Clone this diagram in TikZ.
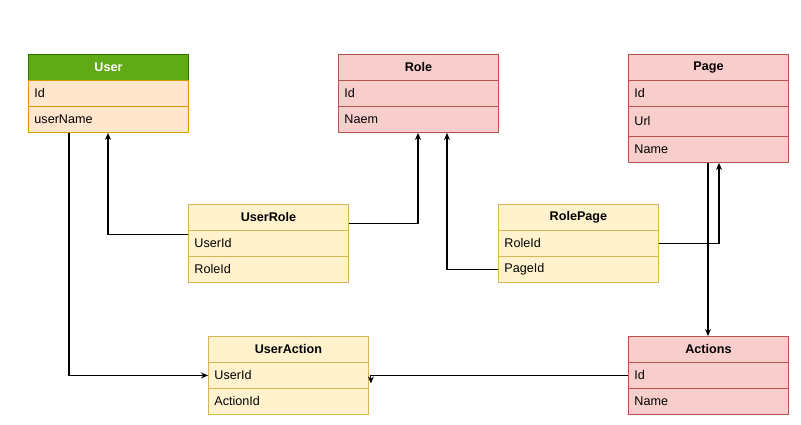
\documentclass[tikz,border=0pt]{standalone}
\usepackage{fontspec}
\setmainfont{Liberation Sans}
\usetikzlibrary{arrows.meta}
\definecolor{grnF}{HTML}{60A917}
\definecolor{grnS}{HTML}{2D7600}
\definecolor{orF}{HTML}{FFE6CC}
\definecolor{orS}{HTML}{D79B00}
\definecolor{redF}{HTML}{F8CECC}
\definecolor{redS}{HTML}{B85450}
\definecolor{yelF}{HTML}{FFF2CC}
\definecolor{yelS}{HTML}{D6B656}
\tikzset{
  cell/.style={draw, line width=0.9pt, minimum width=160pt, minimum height=26pt, anchor=north west,
    inner sep=0pt, text width=148pt, align=left, font=\fontsize{12.6}{14}\selectfont},
  hdr/.style={cell, align=center, font=\fontsize{12.6}{14}\selectfont\bfseries},
  ucell/.style={cell, fill=orF, draw=orS},
  uhdr/.style={hdr, fill=grnF, draw=grnS, text=white},
  rcell/.style={cell, fill=redF, draw=redS},
  rhdr/.style={hdr, fill=redF, draw=redS},
  ycell/.style={cell, fill=yelF, draw=yelS},
  yhdr/.style={hdr, fill=yelF, draw=yelS},
  arr/.style={draw=black, line width=1.1pt, -{Stealth[length=7pt,width=6pt]}}
}
\begin{document}
\begin{tikzpicture}[x=1pt,y=-1pt]
\useasboundingbox (0,0) rectangle (801,425);
% User
\node[uhdr] (userH) at (28,54) {User};
\node[ucell] (userId) at (28,80) {Id};
\node[ucell] (userName) at (28,106) {userName};
% Role
\node[rhdr] (roleH) at (338,54) {Role};
\node[rcell] (roleId) at (338,80) {Id};
\node[rcell] (roleNaem) at (338,106) {Naem};
% Page
\node[rhdr] (pageH) at (628,54) {Page};
\node[rcell] (pageId) at (628,80) {Id};
\node[rcell, minimum height=30pt] (pageUrl) at (628,106) {Url};
\node[rcell] (pageName) at (628,136) {Name};
% UserRole
\node[yhdr] (urH) at (188,204) {UserRole};
\node[ycell] (urUser) at (188,230) {UserId};
\node[ycell] (urRole) at (188,256) {RoleId};
% RolePage
\node[yhdr] (rpH) at (498,204) {RolePage};
\node[ycell] (rpRole) at (498,230) {RoleId};
\node[ycell] (rpPage) at (498,256) {PageId};
% UserAction
\node[yhdr] (uaH) at (208,336) {UserAction};
\node[ycell] (uaUser) at (208,362) {UserId};
\node[ycell] (uaAction) at (208,388) {ActionId};
% Actions
\node[rhdr] (actH) at (628,336) {Actions};
\node[rcell] (actId) at (628,362) {Id};
\node[rcell] (actName) at (628,388) {Name};
% connectors
\draw[arr] ([yshift=-4pt]urH.south west) -| ([xshift=80pt]userName.south west);
\draw[arr] ([yshift=-6pt]urH.east) -| ([xshift=80pt]roleNaem.south west);
\draw[arr] (rpPage.west) -| ([xshift=109pt]roleNaem.south west);
\draw[arr] (rpRole.east) -| ([xshift=91pt]pageName.south west);
\draw[arr] ([xshift=80pt]pageName.south west) -- ([xshift=80pt]actH.north west);
\draw[arr] ([xshift=41pt]userName.south west) |- (uaUser.west);
\coordinate (uaEnd) at ([xshift=2pt,yshift=-8pt]uaUser.east);
\draw[arr] (actId.west) -| (uaEnd);
\end{tikzpicture}
\end{document}
